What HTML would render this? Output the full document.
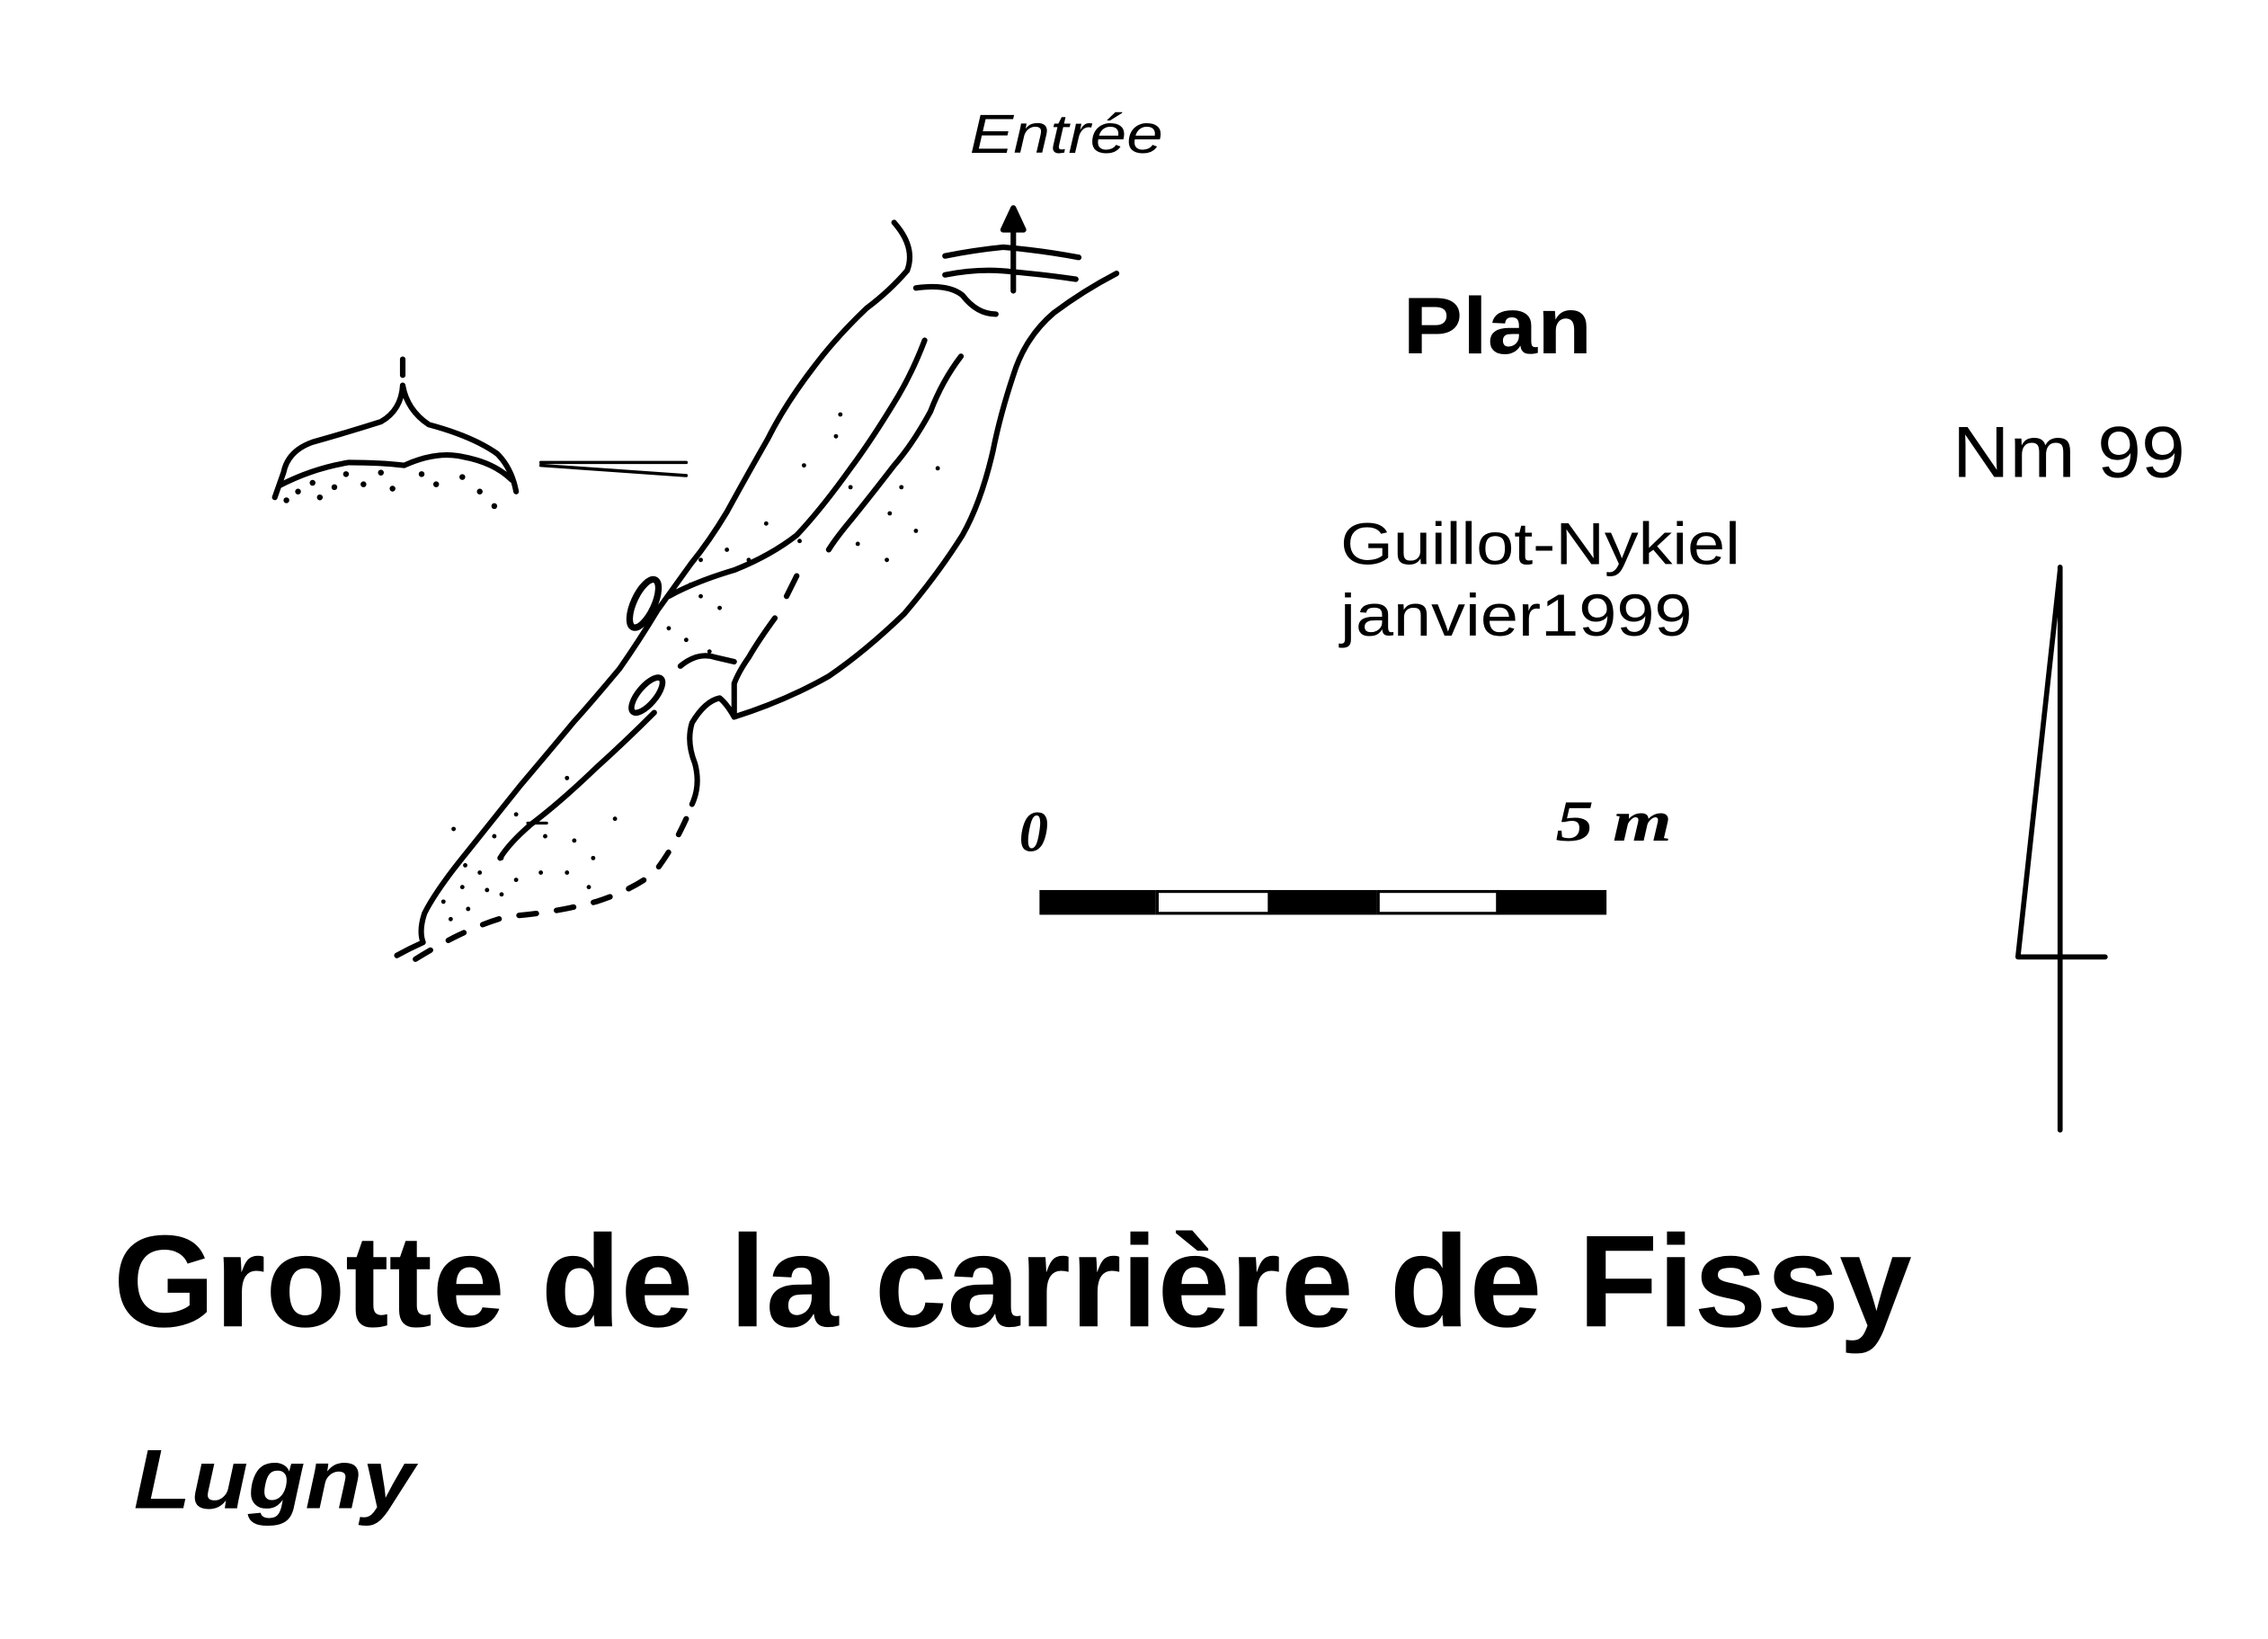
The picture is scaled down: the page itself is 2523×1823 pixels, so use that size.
<!DOCTYPE html>
<html><head><meta charset="utf-8"><style>
html,body{margin:0;padding:0;background:#fff;}
svg{display:block}
</style></head><body>
<svg width="2523" height="1823" viewBox="0 0 1560 1127" preserveAspectRatio="none" xmlns="http://www.w3.org/2000/svg">
<rect width="1560" height="1127" fill="#fff"/>
<g fill="none" stroke="#000" stroke-width="3.8" stroke-linecap="round" stroke-linejoin="round">
<path d="M615,153 Q630,170 624,186 Q612,200 596,212 Q575,232 560,252 Q540,278 528,302 Q512,330 500,352 Q488,372 475,388 Q465,402 452,420 Q440,440 426,460 Q405,485 395,496 Q375,520 358,540 Q338,565 322,585 Q300,612 292,628 Q288,640 291,648 Q282,652 273,657"/>
<path d="M768,188 Q745,200 725,215 Q705,232 697,258 Q688,285 683,310 Q675,345 662,368 Q645,395 622,422 Q595,448 570,465 Q540,482 505,493 Q500,484 495,480 Q485,482 476,497 Q472,510 478,525 Q482,540 476,553"/>
<path d="M472,563 Q462,585 450,600 Q435,612 410,620 Q380,628 350,630 Q322,637 285,660" stroke-dasharray="12,14"/>
<path d="M636,234 Q628,255 618,272 Q600,302 585,322 Q565,350 548,368 Q530,382 505,392 Q478,400 460,410"/>
<path d="M661,245 Q648,262 640,283 Q628,305 615,320 Q598,342 585,358 Q575,370 570,378"/>
<path d="M548,396 L541,410"/>
<path d="M533,425 Q522,440 515,452 Q508,462 505,470 L505,490"/>
<path d="M468,458 Q480,448 492,452 L505,455"/>
<path d="M450,490 Q430,510 410,528 Q385,552 365,567 Q350,580 344,590"/>
<path d="M363,566 L376,566" stroke-width="2"/>
<ellipse cx="443" cy="415" rx="7" ry="18" transform="rotate(25 443 415)" stroke-width="4.5"/>
<ellipse cx="445" cy="478" rx="6" ry="15" transform="rotate(40 445 478)" stroke-width="4"/>
<path d="M697,200 L697,150"/>
<path d="M690,158 L697,143 L704,158 Z" fill="#000"/>
<path d="M650,176 Q670,172 690,170 Q715,172 742,177"/>
<path d="M650,189 Q675,184 697,187 Q720,189 740,192"/>
<path d="M630,198 Q652,195 662,203 Q672,216 685,216"/>
<path d="M277,247 L277,258"/>
<path d="M277,265 Q276,282 262,290 Q240,297 215,304 Q198,310 195,325 L189,342"/>
<path d="M277,265 Q280,282 295,292 Q325,300 342,312 Q352,322 355,338"/>
<path d="M192,334 Q215,322 240,318 Q262,318 278,320 Q300,310 318,314 Q340,318 352,330" />
<path d="M372,318 L472,318 M372,320 L472,327" stroke-width="2.2"/>
<path d="M1417,390 L1417,777 M1417,392 L1388,658 L1448,658" stroke-width="3.5"/>
</g>
<g fill="#000">
<circle cx="205" cy="338" r="2"/><circle cx="215" cy="332" r="2"/><circle cx="230" cy="335" r="2"/><circle cx="238" cy="326" r="2"/><circle cx="250" cy="333" r="2"/><circle cx="262" cy="325" r="2"/><circle cx="270" cy="336" r="2"/><circle cx="290" cy="326" r="2"/><circle cx="300" cy="333" r="2"/><circle cx="318" cy="328" r="2"/><circle cx="330" cy="338" r="2"/><circle cx="340" cy="348" r="2"/><circle cx="197" cy="344" r="2"/><circle cx="220" cy="342" r="2"/>
<circle cx="578" cy="285" r="1.5"/><circle cx="575" cy="300" r="1.5"/><circle cx="553" cy="320" r="1.5"/><circle cx="585" cy="335" r="1.5"/><circle cx="527" cy="360" r="1.5"/><circle cx="550" cy="372" r="1.5"/><circle cx="500" cy="378" r="1.5"/><circle cx="515" cy="385" r="1.5"/><circle cx="482" cy="385" r="1.5"/><circle cx="475" cy="402" r="1.5"/><circle cx="620" cy="335" r="1.5"/><circle cx="645" cy="322" r="1.5"/><circle cx="612" cy="353" r="1.5"/><circle cx="630" cy="365" r="1.5"/><circle cx="590" cy="374" r="1.5"/><circle cx="610" cy="385" r="1.5"/><circle cx="482" cy="410" r="1.5"/><circle cx="495" cy="418" r="1.5"/><circle cx="460" cy="432" r="1.5"/><circle cx="472" cy="440" r="1.5"/><circle cx="488" cy="448" r="1.5"/>
<circle cx="390" cy="535" r="1.5"/><circle cx="423" cy="563" r="1.5"/><circle cx="355" cy="560" r="1.5"/><circle cx="375" cy="575" r="1.5"/><circle cx="395" cy="578" r="1.5"/><circle cx="408" cy="590" r="1.5"/><circle cx="340" cy="575" r="1.5"/><circle cx="345" cy="590" r="1.5"/><circle cx="330" cy="600" r="1.5"/><circle cx="320" cy="595" r="1.5"/><circle cx="318" cy="610" r="1.5"/><circle cx="335" cy="612" r="1.5"/><circle cx="355" cy="605" r="1.5"/><circle cx="372" cy="600" r="1.5"/><circle cx="390" cy="600" r="1.5"/><circle cx="405" cy="610" r="1.5"/><circle cx="305" cy="620" r="1.5"/><circle cx="322" cy="625" r="1.5"/><circle cx="345" cy="615" r="1.5"/><circle cx="310" cy="632" r="1.5"/><circle cx="312" cy="570" r="1.5"/>
</g>
<rect x="715" y="612" width="80" height="17" fill="#000"/>
<rect x="796" y="613" width="77" height="15" fill="#fff" stroke="#000" stroke-width="2"/>
<rect x="873" y="612" width="74" height="17" fill="#000"/>
<rect x="948" y="613" width="82" height="15" fill="#fff" stroke="#000" stroke-width="2"/>
<rect x="1030" y="612" width="75" height="17" fill="#000"/>
<g font-family="Liberation Sans, sans-serif" fill="#000">
<text x="667" y="105" font-size="38" font-style="italic" textLength="133" lengthAdjust="spacingAndGlyphs">Entrée</text>
<text x="965" y="243" font-size="55" font-weight="bold" textLength="130" lengthAdjust="spacingAndGlyphs">Plan</text>
<text x="1343" y="328" font-size="50" textLength="160" lengthAdjust="spacingAndGlyphs">Nm 99</text>
<text x="922" y="388" font-size="41" textLength="275" lengthAdjust="spacingAndGlyphs">Guillot-Nykiel</text>
<text x="922" y="437" font-size="41" textLength="242" lengthAdjust="spacingAndGlyphs">janvier1999</text>
<text x="78" y="912" font-size="90" font-weight="bold" textLength="1237" lengthAdjust="spacingAndGlyphs">Grotte de la carrière de Fissy</text>
<text x="92" y="1037" font-size="58" font-weight="bold" font-style="italic" textLength="193" lengthAdjust="spacingAndGlyphs">Lugny</text>
</g>
<g font-family="Liberation Serif, serif" font-weight="bold" font-style="italic" fill="#000">
<text x="701" y="585" font-size="40">0</text>
<text x="1070" y="578" font-size="40" textLength="80" lengthAdjust="spacingAndGlyphs">5 m</text>
</g>
</svg>
</body></html>
